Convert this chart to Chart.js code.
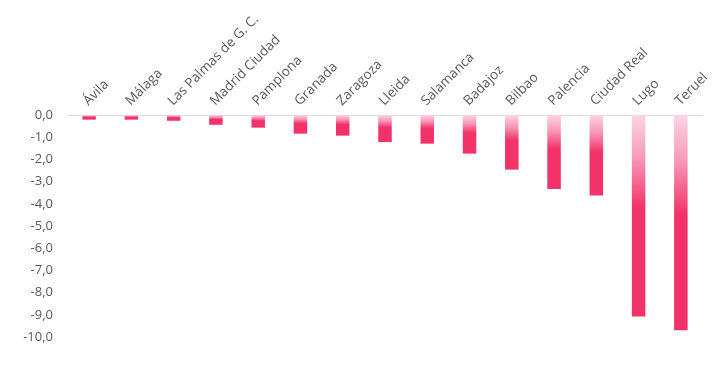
<!DOCTYPE html>
<html><head><meta charset="utf-8">
<script src="https://cdn.jsdelivr.net/npm/chart.js@4/dist/chart.umd.min.js"></script>
<style>html,body{margin:0;padding:0;background:#fff}#wrap{width:721px;height:369px}</style>
</head><body><div id="wrap"><canvas id="c"></canvas></div>
<script>
const categories = ["Ávila","Málaga","Las Palmas de G. C.","Madrid Ciudad","Pamplona","Granada","Zaragoza","Lleida","Salamanca","Badajoz","Bilbao","Palencia","Ciudad Real","Lugo","Teruel"];
const values = [-0.21,-0.21,-0.26,-0.44,-0.57,-0.84,-0.93,-1.22,-1.29,-1.74,-2.46,-3.33,-3.63,-9.08,-9.70];
const yMin = -10, yMax = 0, yStep = 1;

const SOLID = '#F2336A';
function barFill(ctx){
  const chart = ctx.chart;
  if (!chart.chartArea) return SOLID;
  const y = chart.scales.y;
  const v = ctx.raw;
  const y0 = y.getPixelForValue(0), y1 = y.getPixelForValue(v);
  if (!isFinite(y0) || !isFinite(y1) || y1 - y0 < 1) return SOLID;
  const g = chart.ctx.createLinearGradient(0, y0, 0, y1);
  g.addColorStop(0, '#FCD5E4');
  g.addColorStop(0.22, '#F896B6');
  g.addColorStop(0.46, SOLID);
  g.addColorStop(1, SOLID);
  return g;
}

new Chart(document.getElementById('c'), {
  type: 'bar',
  data: { labels: categories, datasets: [{ data: values, backgroundColor: barFill, borderWidth: 0, barPercentage: 0.32, categoryPercentage: 1 }] },
  options: {
    responsive: true, maintainAspectRatio: false, animation: false,
    layout: { padding: { left: 0, right: 19, top: 0, bottom: 32 } },
    plugins: { legend: { display: false }, tooltip: { enabled: false } },
    scales: {
      x: {
        position: 'top',
        grid: { display: false, drawTicks: false },
        border: { display: true, color: '#D9D9D9', width: 1 },
        ticks: { color: '#595959', font: { family: 'Open Sans', size: 13.5 }, minRotation: 45, maxRotation: 45, padding: 6, labelOffset: 8, autoSkip: false },
        afterFit(s){ s.height = 115; }
      },
      y: {
        min: yMin, max: yMax,
        grid: { display: false, drawTicks: false },
        border: { display: false },
        ticks: { stepSize: yStep, color: '#595959', font: { family: 'Open Sans', size: 13 }, padding: 15,
          callback: v => v.toFixed(1).replace('.', ',') },
        afterFit(s){ s.width = 68; }
      }
    }
  }
});
</script></body></html>
